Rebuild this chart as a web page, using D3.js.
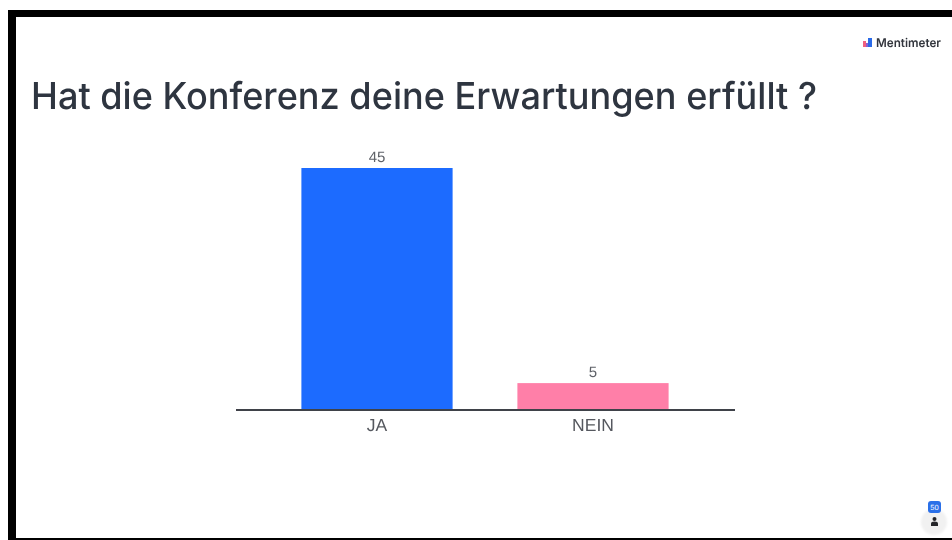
<!DOCTYPE html>
<html>
<head>
<meta charset="utf-8">
<script src="https://cdnjs.cloudflare.com/ajax/libs/d3/7.8.5/d3.min.js"></script>
<style>
  html, body { margin: 0; padding: 0; background: #fff; }
  svg { display: block; }
  text { text-rendering: geometricPrecision; }
</style>
</head>
<body>
<div id="chart"></div>
<script>
var categories = ["JA", "NEIN"];
var votes = [45, 5];
var barColors = ["#1c6bff", "#ff7fa8"];
var titleText = "Hat die Konferenz deine Erwartungen erfüllt ?";
var logoText = "Mentimeter";
var voterCount = "50";

var width = 952;
var height = 540;
var baseline = 410;

var svg = d3.select("#chart")
  .append("svg")
  .attr("width", width)
  .attr("height", height);

// the reference is a soft screenshot, so blur the text a little
var defs = svg.append("defs");
defs.append("filter").attr("id", "soft")
  .append("feGaussianBlur").attr("stdDeviation", 0.5);
defs.append("filter").attr("id", "softer")
  .append("feGaussianBlur").attr("stdDeviation", 0.8);

// black frame of the screenshot, open on the right
svg.append("rect").attr("x", 8).attr("y", 10).attr("width", 944).attr("height", 7).attr("fill", "#000");
svg.append("rect").attr("x", 8).attr("y", 10).attr("width", 8).attr("height", 530).attr("fill", "#000");
svg.append("rect").attr("x", 8).attr("y", 538).attr("width", 944).attr("height", 2).attr("fill", "#000");

svg.append("text")
  .attr("x", 31)
  .attr("y", 109)
  .attr("textLength", 786)
  .attr("lengthAdjust", "spacingAndGlyphs")
  .attr("font-family", "Inter, sans-serif")
  .attr("font-size", 37)
  .attr("font-weight", 500)
  .attr("fill", "#2f3540")
  .attr("filter", "url(#soft)")
  .text(titleText);

var x = d3.scaleBand()
  .domain(categories)
  .range([269, 701])
  .paddingInner(0.3)
  .paddingOuter(0.15);

var y = d3.scaleLinear()
  .domain([0, 45])
  .range([baseline, 168]);

svg.selectAll(".bar")
  .data(votes)
  .enter().append("rect")
  .attr("class", "bar")
  .attr("x", function (d, i) { return x(categories[i]); })
  .attr("y", function (d) { return y(d); })
  .attr("width", x.bandwidth())
  .attr("height", function (d) { return baseline - y(d); })
  .attr("fill", function (d, i) { return barColors[i]; });

svg.selectAll(".value")
  .data(votes)
  .enter().append("text")
  .attr("class", "value")
  .attr("x", function (d, i) { return x(categories[i]) + x.bandwidth() / 2; })
  .attr("y", function (d) { return y(d) - 6; })
  .attr("text-anchor", "middle")
  .attr("font-family", "Liberation Sans, sans-serif")
  .attr("font-size", 15)
  .attr("fill", "#5f6268")
  .attr("filter", "url(#soft)")
  .text(function (d) { return d; });

// axis line runs wider than the bands, so it is drawn by hand
svg.append("line")
  .attr("x1", 236).attr("x2", 735)
  .attr("y1", baseline).attr("y2", baseline)
  .attr("stroke", "#3f4249")
  .attr("stroke-width", 1.8);

svg.selectAll(".label")
  .data(categories)
  .enter().append("text")
  .attr("class", "label")
  .attr("x", function (d) { return x(d) + x.bandwidth() / 2; })
  .attr("y", 431)
  .attr("text-anchor", "middle")
  .attr("font-family", "Liberation Sans, sans-serif")
  .attr("font-size", 17.5)
  .attr("fill", "#55585e")
  .attr("filter", "url(#soft)")
  .text(function (d) { return d; });

// Mentimeter logo
var logo = svg.append("g").attr("filter", "url(#soft)");
logo.append("rect").attr("x", 863).attr("y", 41).attr("width", 3).attr("height", 6).attr("fill", "#f0607f");
logo.append("rect").attr("x", 866).attr("y", 43).attr("width", 2).attr("height", 4).attr("fill", "#8a5fd0");
logo.append("rect").attr("x", 868).attr("y", 38).attr("width", 4).attr("height", 9).attr("fill", "#2a6be8");
logo.append("text")
  .attr("x", 876)
  .attr("y", 47)
  .attr("textLength", 65)
  .attr("lengthAdjust", "spacingAndGlyphs")
  .attr("font-family", "Inter, sans-serif")
  .attr("font-size", 12)
  .attr("font-weight", 600)
  .attr("fill", "#33363d")
  .text(logoText);

// voter badge, bottom right
var badge = svg.append("g");
badge.append("circle").attr("cx", 934).attr("cy", 522).attr("r", 13).attr("fill", "#f1f1f1").attr("filter", "url(#softer)");
badge.append("rect").attr("x", 928).attr("y", 501).attr("width", 13).attr("height", 12).attr("rx", 3).attr("fill", "#2a6fe8").attr("filter", "url(#soft)");
badge.append("text")
  .attr("x", 934.5).attr("y", 510)
  .attr("text-anchor", "middle")
  .attr("font-family", "Liberation Sans, sans-serif")
  .attr("font-size", 7.5)
  .attr("fill", "#fff")
  .text(voterCount);
var person = badge.append("g").attr("filter", "url(#soft)");
person.append("circle").attr("cx", 934.5).attr("cy", 519).attr("r", 2).attr("fill", "#26282c");
person.append("path").attr("d", "M931 526 v-2.5 q0 -2 3.5 -2 q3.5 0 3.5 2 v2.5 z").attr("fill", "#26282c");
</script>
</body>
</html>
